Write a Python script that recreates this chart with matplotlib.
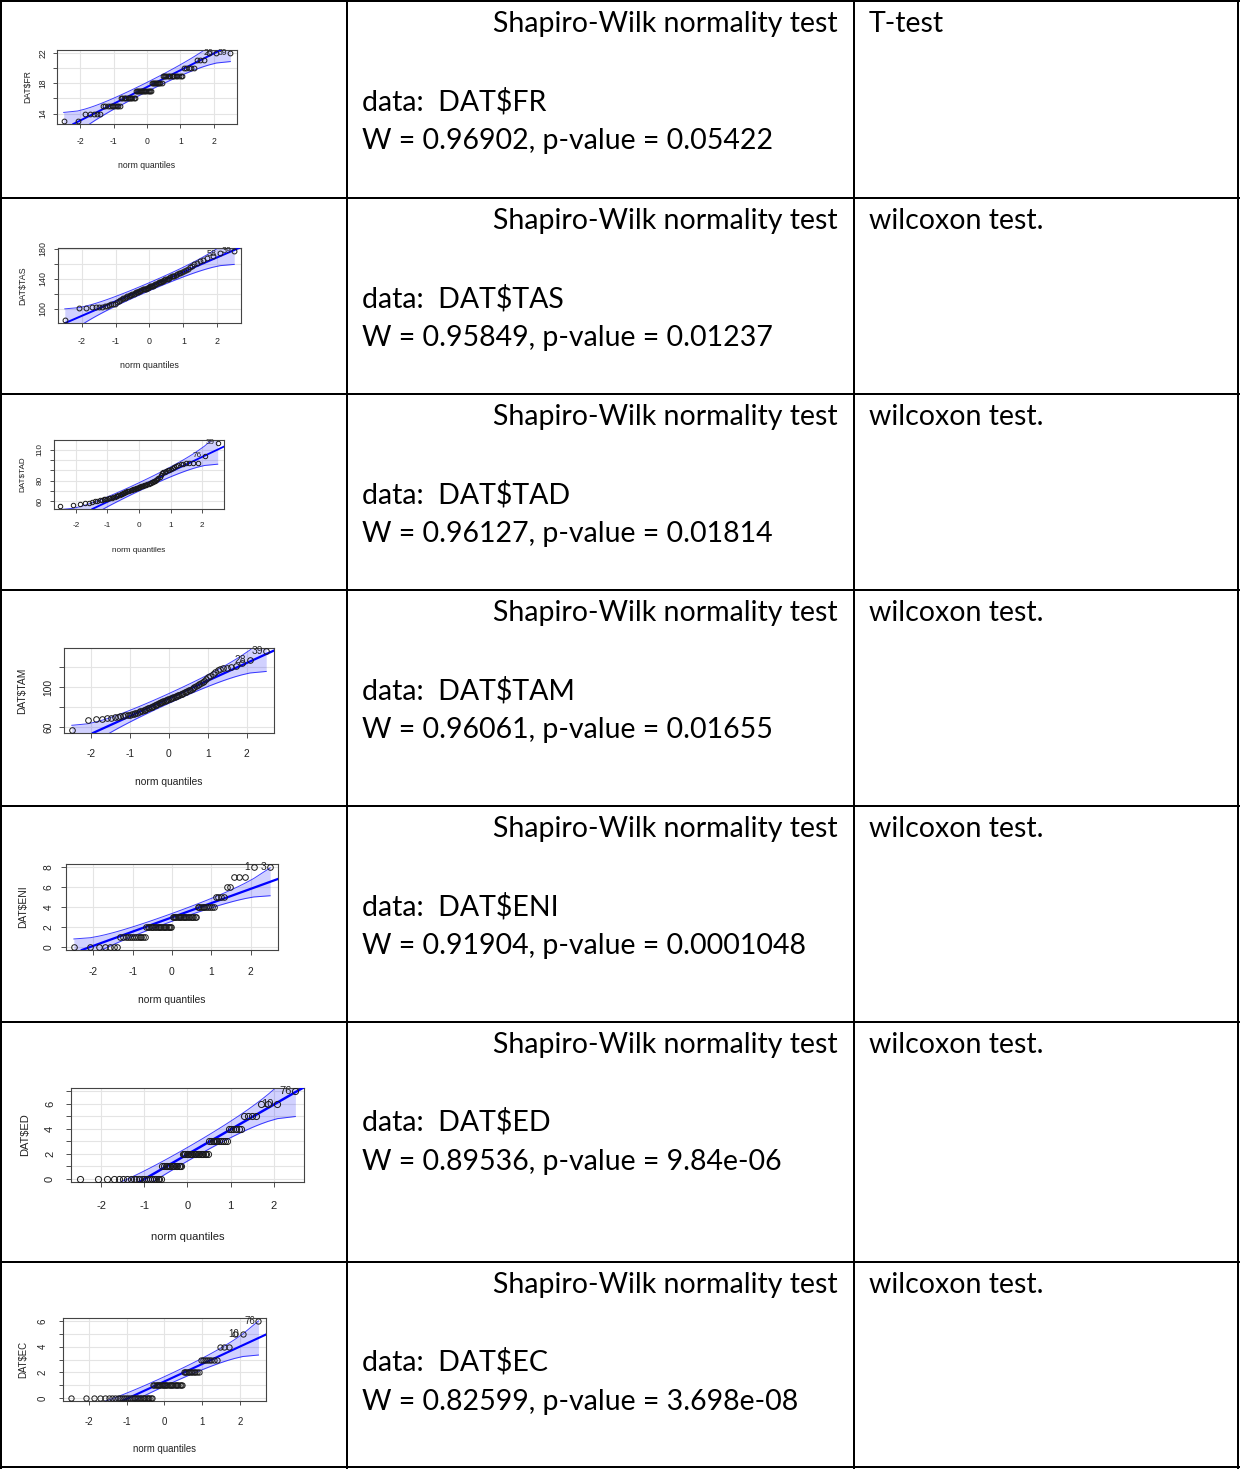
import numpy as np
import matplotlib
matplotlib.use("Agg")
import matplotlib.pyplot as plt
from matplotlib.transforms import blended_transform_factory
from statistics import NormalDist

plt.rcParams["text.parse_math"] = False

W_PX, H_PX, DPI = 1240, 1469, 100

# ------------------------------------------------------------------ data
variables = ["FR", "TAS", "TAD", "TAM", "ENI", "ED", "EC"]
w_stat = ["0.96902", "0.95849", "0.96127", "0.96061", "0.91904", "0.89536", "0.82599"]
p_val = ["0.05422", "0.01237", "0.01814", "0.01655", "0.0001048", "9.84e-06", "3.698e-08"]
test_names = ["T-test", "wilcoxon test.", "wilcoxon test.", "wilcoxon test.",
              "wilcoxon test.", "wilcoxon test.", "wilcoxon test."]

fr_levels = [13, 14, 15, 16, 17, 18, 19, 20, 21, 22]
fr_counts = [2, 5, 10, 12, 15, 10, 15, 5, 3, 3]
eni_levels = [0, 1, 2, 3, 4, 5, 6, 7, 8]
eni_counts = [7, 13, 20, 19, 10, 4, 2, 3, 2]
ed_levels = [0, 1, 2, 3, 4, 5, 6, 7]
ed_counts = [22, 14, 19, 11, 6, 4, 3, 1]
ec_levels = [0, 1, 2, 3, 4, 5, 6]
ec_counts = [30, 25, 11, 8, 3, 2, 1]

tas_values = [85, 101, 101, 102, 102, 103, 103, 104, 104, 105, 106, 107, 107, 109, 111, 112,
              113, 114, 115, 116, 117, 117, 118, 119, 120, 120, 121, 122, 122, 123, 124, 124,
              125, 126, 126, 127, 127, 128, 128, 129,
              130, 130, 131, 131, 132, 133, 133, 134, 135, 135, 136, 137, 137, 138, 139, 139,
              140, 141, 142, 143, 143, 144, 145, 146, 147, 148, 149, 150, 152, 153, 155, 157,
              159, 161, 163, 165, 168, 170, 174, 177]
tad_values = [55, 56, 57, 58, 58, 59, 60, 60, 61, 61, 62, 62, 62, 63, 63, 63, 64, 64, 65, 65,
              66, 66, 67, 67, 68, 68, 69, 69, 70, 70, 70, 71, 71, 72, 72, 72, 73, 73, 73, 74,
              74, 74, 75, 75, 75, 76, 76, 76, 77, 77, 78, 78, 79, 79, 80, 80, 81, 82, 83, 84,
              86, 87, 88, 88, 89, 90, 90, 91, 92, 93, 94, 95, 96, 96, 97, 97, 97, 97, 104, 117]
tam_values = [57, 67, 68, 68, 69, 69, 70, 70, 71, 71, 72, 72, 72, 73, 73, 74, 74, 75, 76, 76,
              77, 77, 78, 79, 79, 80, 80, 81, 82, 82, 83, 84, 84, 85, 85, 86, 86, 87, 87, 88,
              88, 89, 89, 90, 90, 91, 91, 92, 92, 93, 93, 94, 95, 95, 96, 97, 97, 98, 99, 100,
              101, 102, 103, 104, 105, 106, 108, 110, 111, 113, 115, 117, 118, 119, 119, 120,
              121, 124, 127, 136]

# reference lines (intercept, slope)
line_intercepts = [17.5, 129.5, 74.0, 88.6, 2.96, 1.95, 1.29]
line_slopes = [2.2, 19.4, 14.5, 17.8, 1.43, 2.0, 1.357]

# labels of the two largest observations (second largest, largest)
id_labels = [("20", "39"), ("58", "39"), ("76", "39"), ("28", "39"),
             ("1", "3"), ("10", "76"), ("10", "76")]

x_ticks = [-2, -1, 0, 1, 2]
y_ticks = [[14, 16, 18, 20, 22], [100, 120, 140, 160, 180], [60, 70, 80, 90, 100, 110],
           [60, 80, 100, 120], [0, 2, 4, 6, 8], [0, 1, 2, 3, 4, 5, 6, 7], [0, 1, 2, 3, 4, 5, 6]]
y_tick_labels = [["14", "", "18", "", "22"], ["100", "", "140", "", "180"],
                 ["60", "", "80", "", "", "110"], ["60", "", "100", ""],
                 ["0", "2", "4", "6", "8"], ["0", "", "2", "", "4", "", "6", ""],
                 ["0", "", "2", "", "4", "", "6"]]

samples = [np.repeat(fr_levels, fr_counts), np.array(tas_values), np.array(tad_values),
           np.array(tam_values), np.repeat(eni_levels, eni_counts),
           np.repeat(ed_levels, ed_counts), np.repeat(ec_levels, ec_counts)]

# ------------------------------------------------------------------ layout (pixels)
boxes = [(57, 237, 50, 124), (58, 241, 248, 323), (54, 224, 440, 509), (64, 274, 648, 733),
         (66, 278, 864, 950), (71, 304, 1088, 1182), (63, 266, 1318, 1401)]
label_pos = [(142, 43, 28, 165), (342, 43, 23, 365), (526, 40, 22, 550), (754, 48, 22, 782),
             (972, 49, 23, 1000), (1206, 50, 25, 1237), (1422, 43, 23, 1449)]
nq_width = [57, 58, 53, 67, 67, 73, 63]

row_lines = [1, 198, 394, 590, 806, 1022, 1262, 1467]
col_lines = [1, 347, 854, 1238]

fig = plt.figure(figsize=(W_PX / DPI, H_PX / DPI), dpi=DPI)
bg = fig.add_axes([0, 0, 1, 1])
bg.set_xlim(0, W_PX)
bg.set_ylim(H_PX, 0)
bg.axis("off")

LW = 2 * 72 / DPI
for y in row_lines:
    bg.plot([0, W_PX], [y, y], color="black", lw=LW, solid_capstyle="butt")
for x in col_lines:
    bg.plot([x, x], [0, H_PX], color="black", lw=LW, solid_capstyle="butt")

TFONT = "Lato"
TFS = 20.5
for i, var in enumerate(variables):
    top = row_lines[i]
    bg.text(838, top + 31, "Shapiro-Wilk normality test", ha="right", va="baseline",
            fontsize=TFS, family=TFONT)
    bg.text(362, top + 109, "data:  DAT$" + var, ha="left", va="baseline",
            fontsize=TFS, family=TFONT)
    bg.text(362, top + 148, "W = %s, p-value = %s" % (w_stat[i], p_val[i]), ha="left",
            va="baseline", fontsize=TFS, family=TFONT)
    bg.text(869, top + 31, test_names[i], ha="left", va="baseline",
            fontsize=TFS, family=TFONT)


def fx(px):
    return px / W_PX


def fy(px):
    return 1 - px / H_PX


nd = NormalDist()
RFONT = "Liberation Sans"
for i, var in enumerate(variables):
    l, r, t, b = boxes[i]
    xt_y, yt_x, yl_x, xl_y = label_pos[i]
    fpx = nq_width[i] / 6.558
    fs = fpx * 72 / DPI
    ax = fig.add_axes([fx(l), fy(b), (r - l) / W_PX, (b - t) / H_PX])
    x = np.sort(samples[i])
    n = len(x)
    P = (np.arange(1, n + 1) - 0.5) / n
    z = np.array([nd.inv_cdf(p) for p in P])
    a, s = line_intercepts[i], line_slopes[i]
    dens = np.array([nd.pdf(v) for v in z])
    se = s / dens * np.sqrt(P * (1 - P) / n)
    fit = a + s * z
    upper, lower = fit + 1.96 * se, fit - 1.96 * se

    zr = z.max() - z.min()
    ax.set_xlim(z.min() - 0.04 * zr, z.max() + 0.04 * zr)
    yr = x.max() - x.min()
    ax.set_ylim(x.min() - 0.04 * yr, x.max() + 0.04 * yr)

    ax.set_xticks(x_ticks)
    ax.set_yticks(y_ticks[i])
    ax.grid(True, color="#e4e4e4", lw=0.8, zorder=0)
    ax.set_axisbelow(True)
    tick_len = 0.45 * fpx * 72 / DPI
    ax.tick_params(direction="out", length=tick_len, width=0.6, color="#333333",
                   labelbottom=False, labelleft=False)
    for sp in ax.spines.values():
        sp.set_color("#444444")
        sp.set_linewidth(0.8)

    ax.fill_between(z, lower, upper, color="#0000ff", alpha=0.18, lw=0, zorder=1)
    ax.plot(z, upper, color="#0000ff", lw=0.7, alpha=0.75, zorder=2)
    ax.plot(z, lower, color="#0000ff", lw=0.7, alpha=0.75, zorder=2)
    ax.axline((0, a), slope=s, color="#0000ff", lw=fpx * 0.16, zorder=3)
    ax.plot(z, x, linestyle="none", marker="o", markersize=fpx * 0.55 * 72 / DPI,
            markerfacecolor="none", markeredgecolor="#1a1a1a", markeredgewidth=0.7, zorder=4)
    for k, lab in zip([n - 2, n - 1], id_labels[i]):
        ax.annotate(lab, (z[k], x[k]), xytext=(-0.35 * fs, 0), textcoords="offset points",
                    ha="right", va="center", fontsize=fs, family=RFONT, color="#222222",
                    zorder=5, annotation_clip=False)

    tx = blended_transform_factory(ax.transData, fig.transFigure)
    for v in x_ticks:
        ax.text(v, fy(xt_y), str(v), transform=tx, ha="center", va="center", fontsize=fs,
                family=RFONT, color="#222222", clip_on=False)
    ty = blended_transform_factory(fig.transFigure, ax.transData)
    for v, lab in zip(y_ticks[i], y_tick_labels[i]):
        if lab:
            ax.text(fx(yt_x), v, lab, transform=ty, rotation=90, ha="center", va="center",
                    fontsize=fs, family=RFONT, color="#222222", clip_on=False)
    fig.text(fx((l + r) / 2), fy(xl_y), "norm quantiles", ha="center", va="center",
             fontsize=fs, family=RFONT, color="#222222")
    fig.text(fx(yl_x), fy((t + b) / 2), "DAT$" + var, rotation=90, ha="center",
             va="center", fontsize=fs, family=RFONT, color="#222222")

fig.savefig("out.png", dpi=DPI)
